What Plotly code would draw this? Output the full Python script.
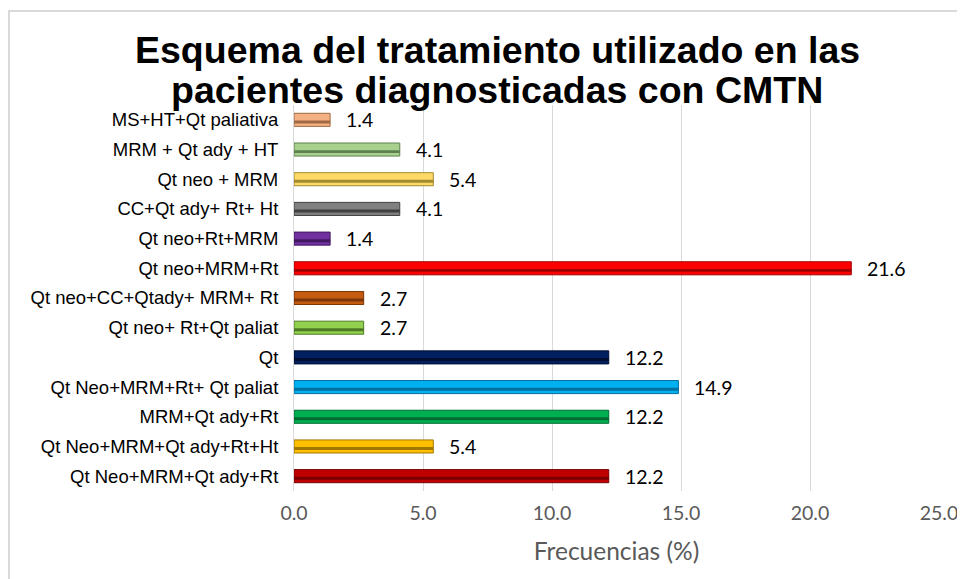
import plotly.graph_objects as go

categories = [
    "Qt Neo+MRM+Qt ady+Rt",
    "Qt Neo+MRM+Qt ady+Rt+Ht",
    "MRM+Qt ady+Rt",
    "Qt Neo+MRM+Rt+ Qt paliat",
    "Qt",
    "Qt neo+ Rt+Qt paliat",
    "Qt neo+CC+Qtady+ MRM+ Rt",
    "Qt neo+MRM+Rt",
    "Qt neo+Rt+MRM",
    "CC+Qt ady+ Rt+ Ht",
    "Qt neo + MRM",
    "MRM + Qt ady + HT",
    "MS+HT+Qt paliativa",
]
values = [12.2, 5.4, 12.2, 14.9, 12.2, 2.7, 2.7, 21.6, 1.4, 4.1, 5.4, 4.1, 1.4]
colors = ["#C00000", "#FFC000", "#00B050", "#00B0F0", "#002060", "#92D050",
          "#C55A11", "#FF0000", "#7030A0", "#808080", "#FFD966", "#A9D18E", "#F4B183"]
dark = ["#7A0000", "#A07800", "#006B30", "#0070A0", "#000F30", "#4F7A25",
        "#7A3508", "#A00000", "#40185F", "#404040", "#A08A30", "#5F8050", "#A06A45"]
title_lines = ["Esquema del tratamiento utilizado en las",
               "pacientes diagnosticadas con CMTN"]

O = 8  # page body margin offset
W, H = 965 - O, 579 - O
L, R, T, B = 294 - O, 26, 105 - O, 88
PW, PH = W - L - R, H - T - B

fig = go.Figure()
fig.add_trace(go.Bar(
    y=categories, x=values, orientation="h",
    marker=dict(color=colors, line=dict(color=dark, width=1)),
    width=0.44, hoverinfo="x+y",
))
fig.add_trace(go.Bar(
    y=categories, x=values, orientation="h",
    marker=dict(color=dark, line=dict(width=0)),
    width=0.1, offset=-0.12, hoverinfo="skip",
))
for c, v in zip(categories, values):
    fig.add_annotation(x=v, y=c, text=f"{v:.1f}", showarrow=False,
                       xanchor="left", xshift=14,
                       font=dict(family="Lato", size=19.5, color="#000000"))

# title drawn as two lines to match the tight line spacing
for line, base in zip(title_lines, [65, 105]):
    fig.add_annotation(text=f"<b>{line}</b>", showarrow=False,
                       xref="paper", yref="paper",
                       x=(497 - O - L) / PW, y=(H - B - (base - O)) / PH,
                       xanchor="center", yanchor="bottom", yshift=-8,
                       font=dict(family="Liberation Sans", size=37.5, color="#000000"))

fig.update_layout(
    width=W, height=H,
    barmode="overlay",
    showlegend=False,
    paper_bgcolor="white", plot_bgcolor="white",
    margin=dict(l=L, r=R, t=T, b=B, autoexpand=False),
    xaxis=dict(
        range=[0, 25], dtick=5, tickformat=".1f", automargin=False,
        showgrid=True, gridcolor="#D9D9D9", gridwidth=1,
        zeroline=False, showline=False, ticks="", ticklabelstandoff=8,
        tickfont=dict(family="Lato", size=19.5, color="#595959"),
        title=dict(text="Frecuencias (%)", font=dict(family="Lato", size=24.5, color="#595959"), standoff=20),
    ),
    yaxis=dict(
        showline=True, linecolor="#D9D9D9", linewidth=1, automargin=False,
        ticks="", ticklabelstandoff=11,
        tickfont=dict(family="Liberation Sans", size=18.5, color="#000000"),
        showgrid=False,
    ),
    shapes=[dict(type="rect", xref="paper", yref="paper",
                 x0=(1 - L) / PW, x1=(W + 10 - L) / PW,
                 y0=-(B + 10) / PH, y1=(H - B - 3) / PH,
                 line=dict(color="#D9D9D9", width=2), layer="below")],
)
fig.write_html("out.html")
